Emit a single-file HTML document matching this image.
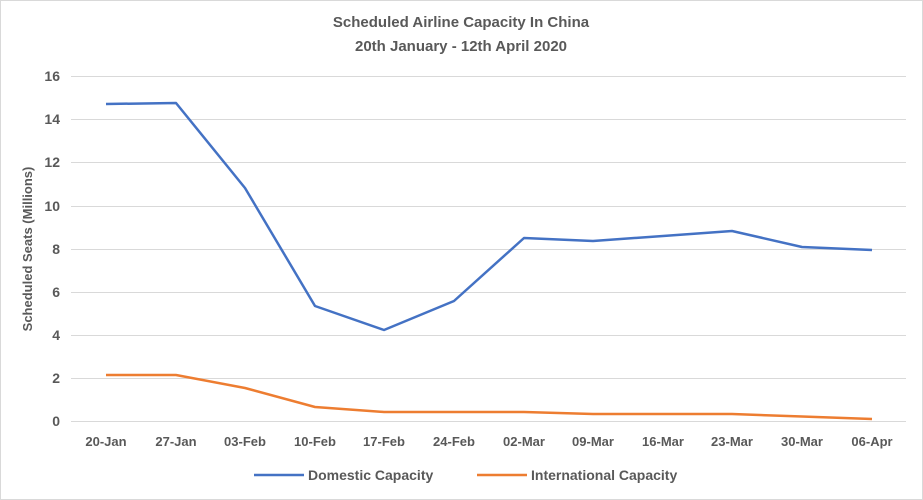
<!DOCTYPE html>
<html><head><meta charset="utf-8"><style>
body{margin:0;background:#fff}
svg{display:block;font-family:"Liberation Sans",sans-serif}
</style></head><body>
<svg width="923" height="500" viewBox="0 0 923 500">
<rect x="0.5" y="0.5" width="922" height="499" fill="#fff" stroke="#d9d9d9"/>
<text x="461" y="27" text-anchor="middle" font-size="15" font-weight="bold" fill="#595959">Scheduled Airline Capacity In China</text>
<text x="461" y="51" text-anchor="middle" font-size="15" font-weight="bold" fill="#595959">20th January - 12th April 2020</text>
<g stroke="#d9d9d9" stroke-width="1">
<line x1="71" x2="906" y1="76.5" y2="76.5"/><line x1="71" x2="906" y1="119.5" y2="119.5"/>
<line x1="71" x2="906" y1="162.5" y2="162.5"/><line x1="71" x2="906" y1="206.5" y2="206.5"/>
<line x1="71" x2="906" y1="249.5" y2="249.5"/><line x1="71" x2="906" y1="292.5" y2="292.5"/>
<line x1="71" x2="906" y1="335.5" y2="335.5"/><line x1="71" x2="906" y1="378.5" y2="378.5"/>
<line x1="71" x2="906" y1="421.5" y2="421.5"/>
</g>
<g font-size="14" font-weight="bold" fill="#595959" text-anchor="end">
<text x="60" y="81">16</text><text x="60" y="124">14</text><text x="60" y="167">12</text>
<text x="60" y="211">10</text><text x="60" y="254">8</text><text x="60" y="297">6</text>
<text x="60" y="340">4</text><text x="60" y="383">2</text><text x="60" y="426">0</text>
</g>
<text transform="translate(32,249) rotate(-90)" text-anchor="middle" font-size="13" font-weight="bold" fill="#595959">Scheduled Seats (Millions)</text>
<g font-size="13" font-weight="bold" fill="#595959" text-anchor="middle">
<text x="106" y="446">20-Jan</text><text x="176" y="446">27-Jan</text><text x="245" y="446">03-Feb</text>
<text x="315" y="446">10-Feb</text><text x="384" y="446">17-Feb</text><text x="454" y="446">24-Feb</text>
<text x="524" y="446">02-Mar</text><text x="593" y="446">09-Mar</text><text x="663" y="446">16-Mar</text>
<text x="732" y="446">23-Mar</text><text x="802" y="446">30-Mar</text><text x="872" y="446">06-Apr</text>
</g>
<polyline fill="none" stroke="#4472c4" stroke-width="2.5" stroke-linejoin="round" points="106,104 176,103 245,188 315,306 384,330 454,301 524,238 593,241 663,236 732,231 802,247 872,250"/>
<polyline fill="none" stroke="#ed7d31" stroke-width="2.5" stroke-linejoin="round" points="106,375 176,375 245,388 315,407 384,412 454,412 524,412 593,414 663,414 732,414 802,416.5 872,419"/>
<line x1="254" x2="304" y1="475" y2="475" stroke="#4472c4" stroke-width="2.5"/>
<text x="308" y="480" font-size="14" font-weight="bold" fill="#595959">Domestic Capacity</text>
<line x1="477" x2="527" y1="475" y2="475" stroke="#ed7d31" stroke-width="2.5"/>
<text x="531" y="480" font-size="14" font-weight="bold" fill="#595959">International Capacity</text>
</svg>
</body></html>
